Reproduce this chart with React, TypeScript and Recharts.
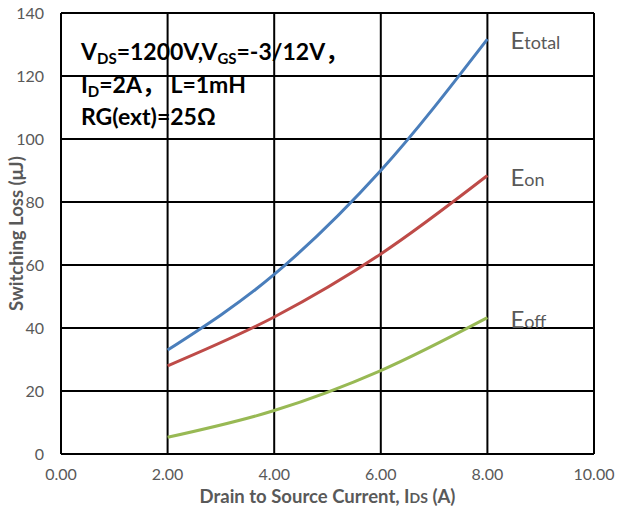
import React from 'react';
import { LineChart, Line, XAxis, YAxis, CartesianGrid, LabelList, Label } from 'recharts';

const currents = [2, 4, 6, 8];
const eTotal = [33, 57, 90, 131.7];
const eOn = [28, 43.5, 63.5, 88.4];
const eOff = [5.3, 13.8, 26.5, 43.3];
const xTicks = [0, 2, 4, 6, 8, 10];
const yTicks = [0, 20, 40, 60, 80, 100, 120, 140];
const seriesNames = ['total', 'on', 'off'];

const data = currents.map((c, i) => ({ x: c, total: eTotal[i], on: eOn[i], off: eOff[i] }));

const FONT = 'Lato, "Noto Sans CJK SC", sans-serif';
const GRAY = '#595959';

const makeEndLabel = (suffix: string) => (props: any) => {
  const { x, y, index } = props;
  if (index !== currents.length - 1) return null;
  return (
    <text x={x + 23} y={y + 10} fill={GRAY} fontFamily={FONT}>
      <tspan fontSize={24}>E</tspan>
      <tspan fontSize={18}>{suffix}</tspan>
    </text>
  );
};

const XTitle = (props: any) => {
  const { viewBox } = props;
  const cx = viewBox.x + viewBox.width / 2;
  return (
    <text x={cx} y={503} textAnchor="middle" fill={GRAY} fontFamily={FONT} fontWeight="bold" fontSize={18.5}>
      <tspan>Drain to Source Current, I</tspan>
      <tspan fontSize={14}>DS</tspan>
      <tspan> (A)</tspan>
    </text>
  );
};

const YTitle = (props: any) => {
  const { viewBox } = props;
  const cy = viewBox.y + viewBox.height / 2;
  return (
    <text x={23} y={cy} transform={`rotate(-90, 23, ${cy})`} textAnchor="middle" fill={GRAY} fontFamily={FONT} fontWeight="bold" fontSize={18.5}>
      Switching Loss (μJ)
    </text>
  );
};

export default function App() {
  return (
    <div style={{ position: 'absolute', left: 0, top: 0, width: 617, height: 509, background: '#fff' }}>
      <LineChart width={617} height={509} data={data} margin={{ top: 13, right: 23, left: 0, bottom: 0 }}>
        <CartesianGrid stroke="#000" strokeWidth={2} />
        <XAxis
          dataKey="x"
          type="number"
          domain={[0, 10]}
          ticks={xTicks}
          tickFormatter={(v: number) => v.toFixed(2)}
          height={55}
          tickSize={0}
          tickMargin={15}
          axisLine={{ stroke: '#000', strokeWidth: 2 }}
          tick={{ fill: GRAY, fontSize: 16, fontFamily: FONT }}
        >
          <Label content={XTitle} />
        </XAxis>
        <YAxis
          type="number"
          domain={[0, 140]}
          ticks={yTicks}
          width={61}
          tickSize={0}
          tickMargin={17}
          axisLine={{ stroke: '#000', strokeWidth: 2 }}
          tick={{ fill: GRAY, fontSize: 16, fontFamily: FONT }}
        >
          <Label content={YTitle} />
        </YAxis>
        <Line dataKey="total" stroke="#4A7EBB" strokeWidth={3} dot={false} type="monotone" isAnimationActive={false}>
          <LabelList dataKey="total" content={makeEndLabel(seriesNames[0])} />
        </Line>
        <Line dataKey="on" stroke="#BE4B48" strokeWidth={3} dot={false} type="monotone" isAnimationActive={false}>
          <LabelList dataKey="on" content={makeEndLabel(seriesNames[1])} />
        </Line>
        <Line dataKey="off" stroke="#98B954" strokeWidth={3} dot={false} type="monotone" isAnimationActive={false}>
          <LabelList dataKey="off" content={makeEndLabel(seriesNames[2])} />
        </Line>
      </LineChart>
      <svg width={617} height={509} style={{ position: 'absolute', left: 0, top: 0, pointerEvents: 'none' }}>
        <text fontFamily={FONT} fontWeight="bold" fontSize={23} fill="#000">
          <tspan x={81} y={60}>V</tspan>
          <tspan fontSize={15} dy={4}>DS</tspan>
          <tspan dy={-4}>=1200V,V</tspan>
          <tspan fontSize={15} dy={4}>GS</tspan>
          <tspan dy={-4}>=-3/12V，</tspan>
          <tspan x={81} y={93}>I</tspan>
          <tspan fontSize={15} dy={4}>D</tspan>
          <tspan dy={-4}>=2A，  L=1mH</tspan>
          <tspan x={81} y={125}>RG(ext)=25Ω</tspan>
        </text>
      </svg>
    </div>
  );
}
